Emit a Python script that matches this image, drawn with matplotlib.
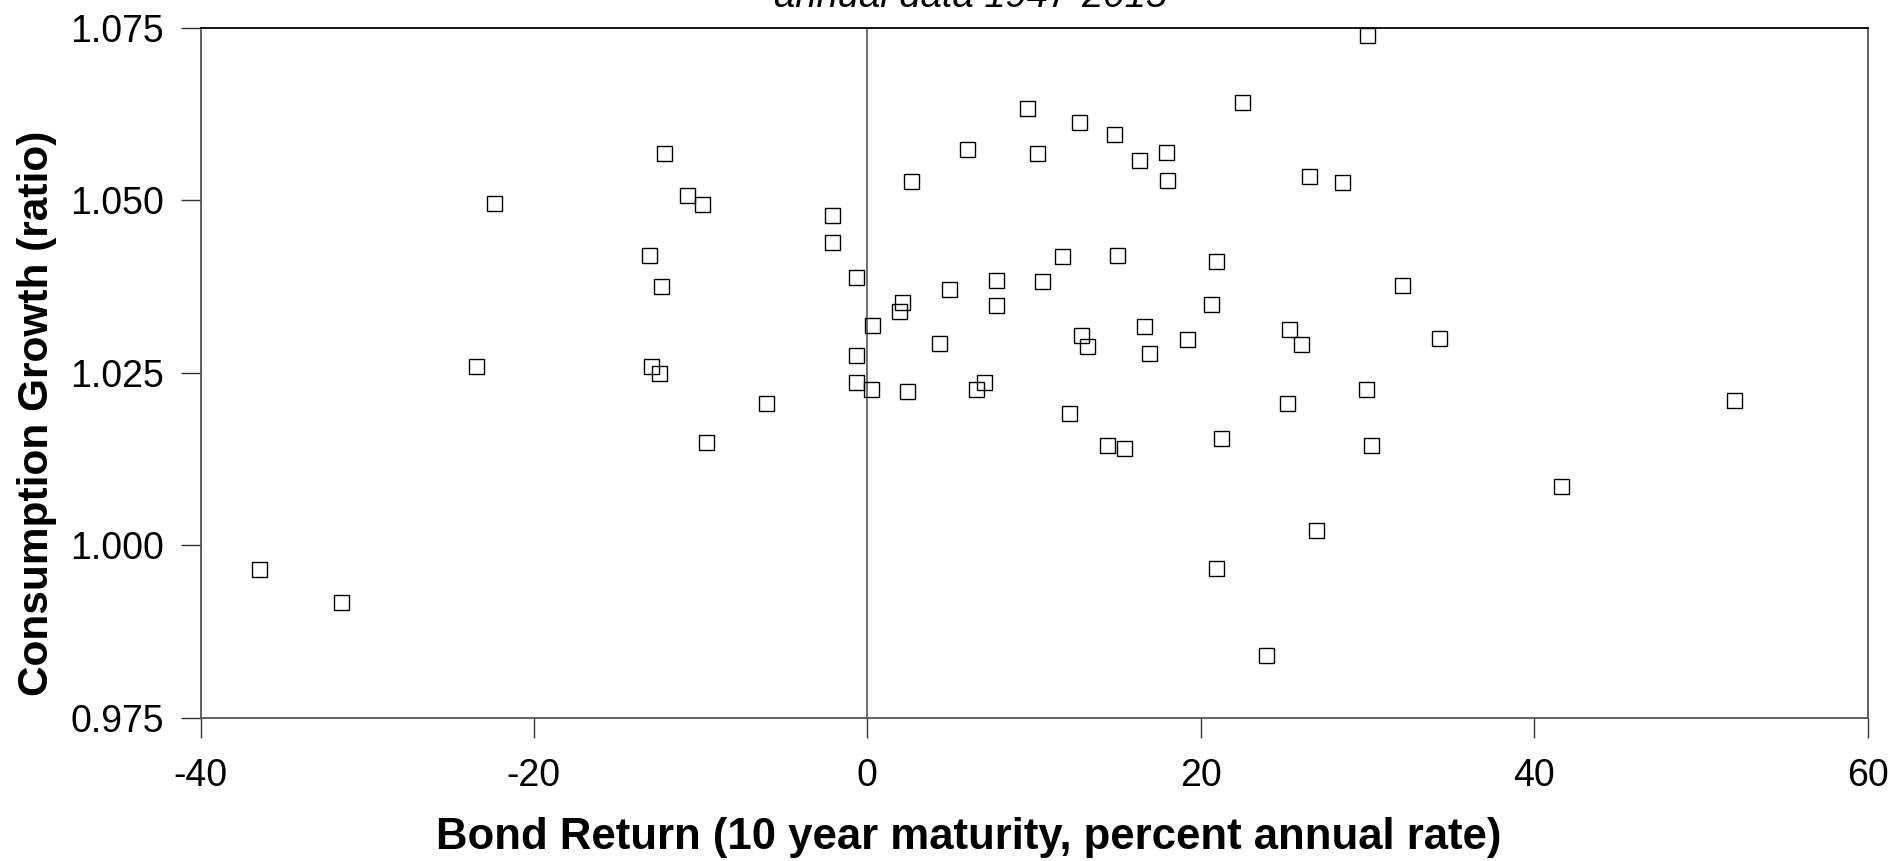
import matplotlib
matplotlib.use("Agg")
import matplotlib.pyplot as plt
import numpy as np

# Bond return (10 year maturity, percent annual rate)
bond_return = [
    -36.5, -31.6, -23.5, -22.4, -13.1, -13.0, -12.5, -12.4, -12.2, -10.8,
    -9.9, -9.7, -6.1, -2.1, -2.1, -0.7, -0.7, -0.7, 0.2, 0.3,
    1.9, 2.1, 2.4, 2.6, 4.3, 4.9, 6.0, 6.5, 7.0, 7.7,
    7.7, 9.6, 10.2, 10.5, 11.7, 12.1, 12.7, 12.8, 13.2, 14.4,
    14.8, 15.0, 15.4, 16.3, 16.6, 16.9, 17.9, 18.0, 19.2, 20.6,
    20.9, 20.9, 21.2, 22.5, 23.9, 25.2, 25.3, 26.0, 26.5, 26.9,
    28.5, 29.9, 30.0, 30.2, 32.1, 34.3, 41.6, 52.0,
]
# Consumption growth (ratio)
consumption_growth = [
    0.9965, 0.9917, 1.0259, 1.0496, 1.0421, 1.0259, 1.0249, 1.0375, 1.0568, 1.0508,
    1.0495, 1.0149, 1.0206, 1.0478, 1.0440, 1.0389, 1.0275, 1.0236, 1.0226, 1.0319,
    1.0339, 1.0352, 1.0223, 1.0528, 1.0293, 1.0372, 1.0574, 1.0226, 1.0237, 1.0385,
    1.0348, 1.0634, 1.0568, 1.0383, 1.0419, 1.0192, 1.0614, 1.0305, 1.0288, 1.0145,
    1.0596, 1.0420, 1.0141, 1.0558, 1.0317, 1.0278, 1.0570, 1.0530, 1.0299, 1.0350,
    1.0412, 0.9967, 1.0155, 1.0642, 0.9840, 1.0206, 1.0313, 1.0292, 1.0535, 1.0022,
    1.0526, 1.0227, 1.0739, 1.0145, 1.0377, 1.0300, 1.0086, 1.0210,
]

x_ticks = [-40, -20, 0, 20, 40, 60]
x_tick_labels = ["-40", "-20", "0", "20", "40", "60"]
y_ticks = [0.975, 1.000, 1.025, 1.050, 1.075]
y_tick_labels = ["0.975", "1.000", "1.025", "1.050", "1.075"]

title_text = "annual data 1947-2015"
x_label = "Bond Return (10 year maturity, percent annual rate)"
y_label = "Consumption Growth (ratio)"

plt.rcParams['font.family'] = ['Liberation Sans', 'DejaVu Sans']
plt.rcParams['axes.unicode_minus'] = False

W, H = 1894, 861
fig = plt.figure(figsize=(W / 100, H / 100), dpi=100)
left, right, top, bottom = 200.5, 1867.5, 27.8, 717.5
ax = fig.add_axes([left / W, 1 - bottom / H, (right - left) / W, (bottom - top) / H])

ax.axvline(0, color="#555555", lw=1.2, zorder=1)
ax.plot(bond_return, consumption_growth, linestyle="none", marker="s",
        markersize=10.8, markerfacecolor="none", markeredgecolor="black",
        markeredgewidth=1.0, zorder=3)

ax.set_xlim(-40, 60)
ax.set_ylim(0.975, 1.075)
ax.set_xticks(x_ticks)
ax.set_xticklabels(x_tick_labels)
ax.set_yticks(y_ticks)
ax.set_yticklabels(y_tick_labels)

for s in ["left", "bottom", "right"]:
    ax.spines[s].set_color("#555555")
    ax.spines[s].set_linewidth(1.3)
ax.spines["top"].set_color("black")
ax.spines["top"].set_linewidth(1.3)

ax.tick_params(axis="both", direction="out", length=14.5, width=1.0,
               color="#333333", labelsize=27)
ax.tick_params(axis="x", pad=14.5)
ax.tick_params(axis="y", pad=12)

ax.set_xlabel(x_label, fontsize=31.5, fontweight="bold")
ax.set_ylabel(y_label, fontsize=30.5, fontweight="bold")
ax.xaxis.set_label_coords((969 - left) / (right - left), -(837 - bottom) / (bottom - top))
ax.xaxis.label.set_va("center")
ax.yaxis.set_label_coords(-(left - 37) / (right - left), (bottom - 413.7) / (bottom - top))
ax.yaxis.label.set_va("center")

fig.text(971 / W, 1 - 7 / H, title_text, ha="center", va="baseline",
         fontsize=27.5, fontstyle="italic")

fig.savefig("out.png", dpi=100)
